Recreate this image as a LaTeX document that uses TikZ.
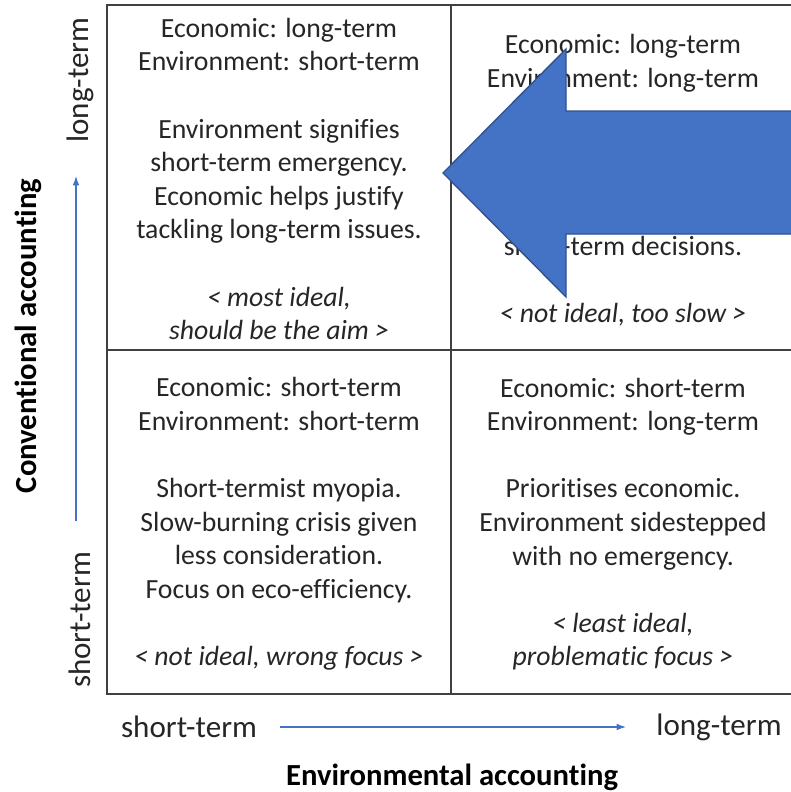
\documentclass[tikz,border=0pt]{standalone}
\usepackage{fontspec}
\setmainfont{Carlito}[Ligatures={NoCommon}]
\usetikzlibrary{arrows.meta}
\definecolor{accblue}{HTML}{4472C4}
\definecolor{accedge}{HTML}{2F528F}
\definecolor{gridcol}{HTML}{404040}
\tikzset{
  quad/.style={align=center,inner sep=0pt,text=black!85,font=\fontsize{20.8}{25.2}\selectfont},
  axislbl/.style={inner sep=0pt,text=black!85,font=\fontsize{23.3}{28}\selectfont},
  axistitle/.style={inner sep=0pt,text=black,font=\fontsize{23}{28}\selectfont\bfseries},
  axisarrow/.style={draw=accblue,line width=0.9pt,-{Latex[length=7pt,width=5pt]}},
  gridline/.style={draw=gridcol,line width=1.4pt},
  bigarrow/.style={fill=accblue,draw=accedge,line width=1pt,line join=miter}
}
\begin{document}
\begin{tikzpicture}[x=0.75pt,y=-0.75pt]
\useasboundingbox[fill=white] (0,0) rectangle (791,792);
% grid
\draw[gridline] (107,5) rectangle (800,694);
\draw[gridline] (451,5) -- (451,694);
\draw[gridline] (107,350) -- (800,350);
% quadrant texts
\node[quad] (q1) at (279,179) {Economic: long-term\\Environment: short-term\\[25.2pt]Environment signifies\\short-term emergency.\\Economic helps justify\\tackling long-term issues.\\[25.2pt]\itshape < most ideal,\\\itshape should be the aim >};
\node[quad] (q2) at (623,180) {Economic: long-term\\Environment: long-term\\[100.8pt]short-term decisions.\\[25.2pt]\itshape < not ideal, too slow >};
\node[quad] (q3) at (279,524) {Economic: short-term\\Environment: short-term\\[25.2pt]Short-termist myopia.\\Slow-burning crisis given\\less consideration.\\Focus on eco-efficiency.\\[25.2pt]\itshape < not ideal, wrong focus >};
\node[quad] (q4) at (623,524) {Economic: short-term\\Environment: long-term\\[25.2pt]Prioritises economic.\\Environment sidestepped\\with no emergency.\\[25.2pt]\itshape < least ideal,\\\itshape problematic focus >};
% big arrow
\draw[bigarrow] (443,173) -- (566,49) -- (566,111) -- (805,111) -- (805,234) -- (566,234) -- (566,297) -- cycle;
% horizontal axis
\node[axislbl] (xs) at (189,727) {short-term};
\node[axislbl] (xl) at (719,727) {long-term};
\coordinate (xa) at (280,727);
\coordinate (xb) at (626,727);
\draw[axisarrow] (xa) -- (xb);
\node[axistitle] (xt) at (452,777) {Environmental accounting};
% vertical axis
\node[axislbl,rotate=90] (ys) at (80,620) {short-term};
\node[axislbl,rotate=90] (yl) at (80,80) {long-term};
\coordinate (ya) at (76,521);
\coordinate (yb) at (76,176);
\draw[axisarrow] (ya) -- (yb);
\node[axistitle,rotate=90] (yt) at (28,336) {Conventional accounting};
\end{tikzpicture}
\end{document}
